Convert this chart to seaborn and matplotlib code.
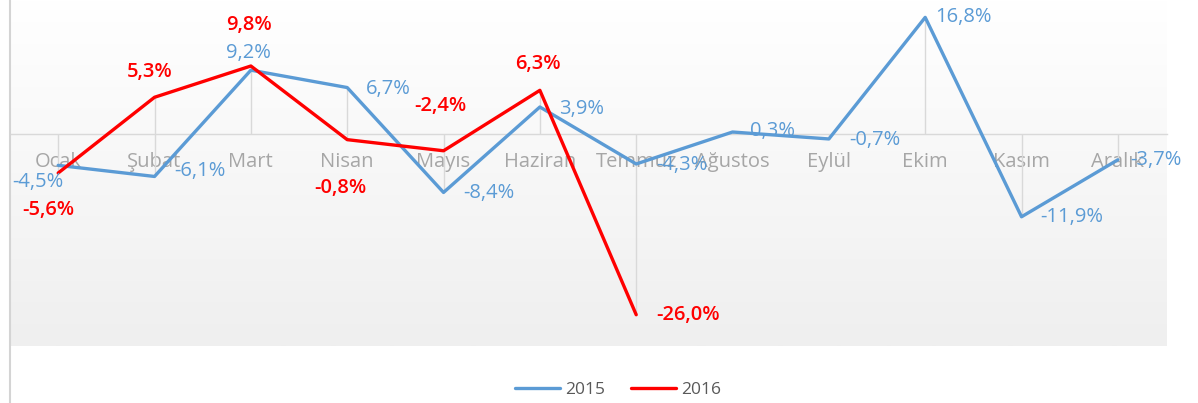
import numpy as np
import pandas as pd
import matplotlib
matplotlib.use('Agg')
import matplotlib.pyplot as plt
from matplotlib.colors import LinearSegmentedColormap
from matplotlib.lines import Line2D
import seaborn as sns

#---------------------------------------------------
months=['Ocak', 'Şubat', 'Mart', 'Nisan', 'Mayıs', 'Haziran', 'Temmuz', 'Ağustos', 'Eylül', 'Ekim', 'Kasım', 'Aralık']
v2015=[-4.5, -6.1, 9.2, 6.7, -8.4, 3.9, -4.3, 0.3, -0.7, 16.8, -11.9, -3.7]
v2016=[-5.6, 5.3, 9.8, -0.8, -2.4, 6.3, -26.0]
years=['2015', '2016']
cmap=['#5b9bd5', '#ff0000']

#label offsets in pixels (dx, dy up)
off15=[(-20, -17), (45, 5), (-2, 17), (41, -1), (45, -1), (42, -2), (46, -1), (40, 1), (46, -1), (38, 0), (50, 0), (38, 0)]
off16=[(-10, -37), (-5, 25), (-2, 41), (-7, -48), (-3, 45), (-2, 26), (52, 0)]

#---------------------------------------------------
sns.set_style('white')
plt.rcParams['font.family']=['Open Sans', 'DejaVu Sans']

df=pd.concat([
	pd.DataFrame({'x': np.arange(len(v2015)), 'val': v2015, 'year': years[0]}),
	pd.DataFrame({'x': np.arange(len(v2016)), 'val': v2016, 'year': years[1]}),
])

fig=plt.figure(figsize=(11.98, 4.03), dpi=100)
ax=fig.add_axes([11/1198, 57/403, (1167-11)/1198, 346/403])
xlim=(-0.49, 11.51)
ylim=(-30.5, 19.3)

#gradient background
grad=np.linspace(0, 1, 256).reshape(-1, 1)
bg=LinearSegmentedColormap.from_list('bg', ['#ffffff', '#efefef'])
ax.imshow(grad, cmap=bg, extent=[xlim[0], xlim[1], ylim[0], ylim[1]], aspect='auto', origin='upper', zorder=0)

#drop lines
a15=np.array(v2015)
a16=np.full(len(v2015), np.nan)
a16[:len(v2016)]=v2016
both=np.vstack([a15, a16])
lo=np.minimum(np.nanmin(both, axis=0), 0)
hi=np.maximum(np.nanmax(both, axis=0), 0)
ax.vlines(np.arange(len(months)), lo, hi, color='#d9d9d9', lw=1, zorder=1)

ax=sns.lineplot(data=df, x='x', y='val', hue='year', palette=cmap, lw=2.4, ax=ax, zorder=3, legend=True)

#data labels
def lab(vals, offs, color, weight):
	for i, (v, o) in enumerate(zip(vals, offs)):
		s=f'{v:.1f}%'.replace('.', ',')
		ax.annotate(s, (i, v), xytext=(o[0]*0.72, o[1]*0.72), textcoords='offset points',
			ha='center', va='center', fontsize=14.5, color=color, weight=weight, zorder=4)

lab(v2015, off15, cmap[0], 'normal')
lab(v2016, off16, cmap[1], 'semibold')

#axes
for s in ['top', 'right', 'left']:
	ax.spines[s].set_visible(False)
ax.spines['bottom'].set_position(('data', 0))
ax.spines['bottom'].set_color('#d9d9d9')
ax.spines['bottom'].set_linewidth(1)
ax.set_xlim(xlim)
ax.set_ylim(ylim)
ax.set_xticks(np.arange(len(months)))
ax.set_xticklabels(months, fontsize=14.5, color='#a6a6a6')
ax.set_yticks([])
ax.set_xlabel('')
ax.set_ylabel('')
ax.tick_params(axis='x', length=0, pad=13)
ax.set_axisbelow(True)

#legend
h, l=ax.get_legend_handles_labels()
ax.legend_.remove()
fig.legend(h, l, loc='center', bbox_to_anchor=(618/1198, 1-390/403), ncol=2, frameon=False,
	fontsize=12.5, handlelength=2.6, columnspacing=1.5, handletextpad=0.3, labelcolor='#595959')

#left border
fig.add_artist(Line2D([10/1198, 10/1198], [0, 1], transform=fig.transFigure, color='#d4d4d4', lw=1.5))

plt.savefig('out.png', dpi=100)
plt.close()
